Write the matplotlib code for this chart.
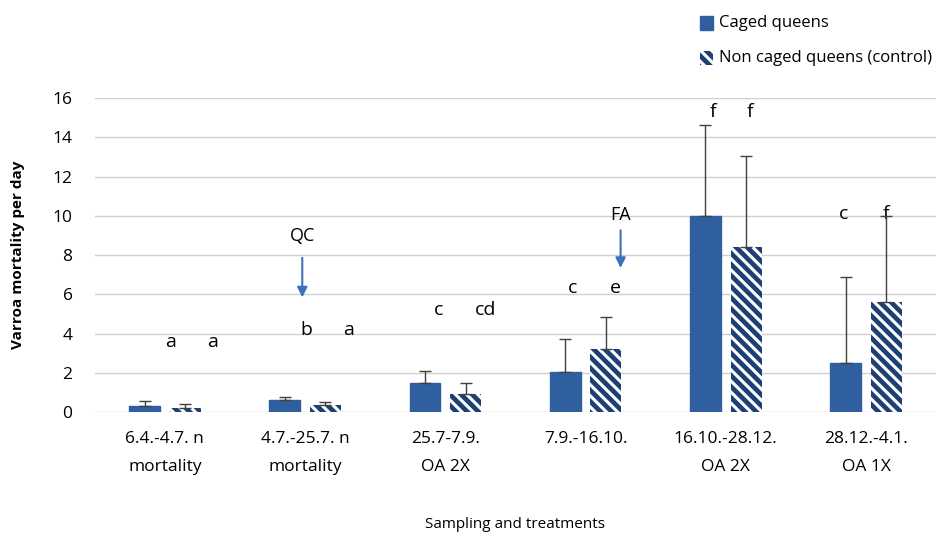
import matplotlib.pyplot as plt
import numpy as np
from matplotlib.patches import Rectangle

plt.rcParams['font.family'] = ['Open Sans', 'DejaVu Sans']
plt.rcParams['hatch.linewidth'] = 3.4

# data
categories = ['6.4.-4.7. n\nmortality', '4.7.-25.7. n\nmortality', '25.7-7.9.\nOA 2X',
              '7.9.-16.10.', '16.10.-28.12.\nOA 2X', '28.12.-4.1.\nOA 1X']
caged = [0.3, 0.6, 1.5, 2.05, 10.0, 2.5]
caged_err = [0.25, 0.15, 0.6, 1.65, 4.6, 4.4]
control = [0.2, 0.35, 0.9, 3.2, 8.4, 5.6]
control_err = [0.2, 0.15, 0.6, 1.65, 4.65, 4.4]
letters_caged = ['a', 'b', 'c', 'c', 'f', 'c']
letters_control = ['a', 'a', 'cd', 'e', 'f', 'f']
letters_caged_x = [0.04, 1.01, 1.95, 2.91, 3.91, 4.84]
letters_control_x = [0.34, 1.31, 2.29, 3.21, 4.17, 5.14]
letters_y = [3.55, 4.2, 5.2, 6.3, 15.3, 10.1]

blue = '#2F5F9E'
navy = '#1E3F73'

fig = plt.figure(figsize=(9.38, 5.4), dpi=100)
ax = fig.add_axes([0.101, 0.237, 0.897, 0.5815])

x = np.arange(len(categories))
w = 0.22
off = 0.145
ax.bar(x - off, caged, w, color=blue, edgecolor=blue, zorder=3, label='Caged queens')
ax.bar(x + off, control, w, color='white', edgecolor=navy, hatch='\\\\\\', linewidth=0,
       zorder=3, label='Non caged queens (control)')
ax.errorbar(x - off, caged, yerr=[np.zeros(6), caged_err], fmt='none', ecolor='#404040',
            elinewidth=1, capsize=4, zorder=4)
ax.errorbar(x + off, control, yerr=[np.zeros(6), control_err], fmt='none', ecolor='#404040',
            elinewidth=1, capsize=4, zorder=4)

for i in range(len(categories)):
    ax.text(letters_caged_x[i], letters_y[i], letters_caged[i], ha='center', va='center', fontsize=14)
    ax.text(letters_control_x[i], letters_y[i], letters_control[i], ha='center', va='center', fontsize=14)

# treatment arrows
ax.annotate('', xy=(0.98, 5.7), xytext=(0.98, 8.0),
            arrowprops=dict(arrowstyle='-|>', color='#3A73B8', lw=1.5, mutation_scale=15))
ax.text(0.98, 8.5, 'QC', ha='center', va='bottom', fontsize=13)
ax.annotate('', xy=(3.25, 7.2), xytext=(3.25, 9.4),
            arrowprops=dict(arrowstyle='-|>', color='#3A73B8', lw=1.5, mutation_scale=15))
ax.text(3.25, 9.6, 'FA', ha='center', va='bottom', fontsize=13)

ax.set_xlim(-0.5, 5.5)
ax.set_ylim(0, 16)
ax.set_yticks(range(0, 17, 2))
ax.set_xticks(x)
ax.set_xticklabels(categories, fontsize=12.5, linespacing=1.95)
ax.tick_params(axis='x', length=0, pad=14)
ax.tick_params(axis='y', length=0, pad=16, labelsize=12.5)
ax.grid(axis='y', color='#D0D0D0', lw=1, zorder=0)
for s in ax.spines.values():
    s.set_visible(False)

ax.set_ylabel('Varroa mortality per day', fontsize=11, fontweight='bold', labelpad=20)
ax.set_xlabel('Sampling and treatments', fontsize=11, labelpad=30)

# legend above plot
fig.patches.append(Rectangle((0.746, 0.945), 0.014, 0.026, transform=fig.transFigure,
                             facecolor=blue, edgecolor=blue))
fig.patches.append(Rectangle((0.746, 0.88), 0.014, 0.026, transform=fig.transFigure,
                             facecolor='white', edgecolor=navy, hatch='\\\\\\', linewidth=0))
fig.text(0.767, 0.958, 'Caged queens', fontsize=12, va='center')
fig.text(0.767, 0.893, 'Non caged queens (control)', fontsize=12, va='center')

fig.savefig('out.png', dpi=100)
